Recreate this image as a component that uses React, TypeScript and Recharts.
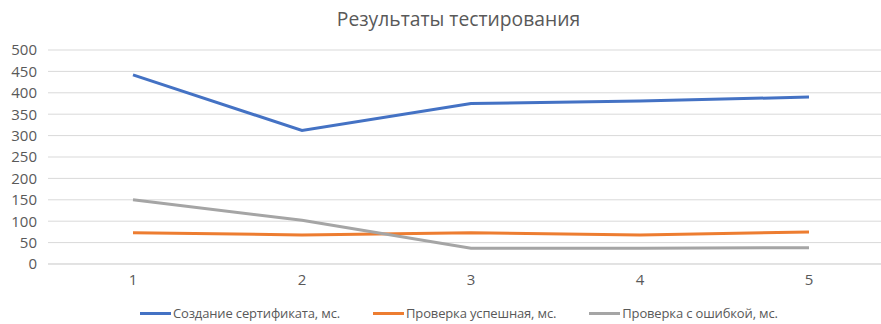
import { CartesianGrid, Line, LineChart, XAxis, YAxis } from "recharts";

const categories = ["1", "2", "3", "4", "5"];
const creation = [442, 312, 375, 381, 390];
const verifyOk = [73, 68, 73, 68, 75];
const verifyErr = [150, 102, 37, 37, 38];
const yTicks = [0, 50, 100, 150, 200, 250, 300, 350, 400, 450, 500];

const series = [
  { key: "creation", name: "Создание сертификата, мс.", color: "#4472C4" },
  { key: "verifyOk", name: "Проверка успешная, мс.", color: "#ED7D31" },
  { key: "verifyErr", name: "Проверка с ошибкой, мс.", color: "#A5A5A5" },
];

const data = categories.map((c, i) => ({
  cat: c,
  creation: creation[i],
  verifyOk: verifyOk[i],
  verifyErr: verifyErr[i],
}));

const FONT = "Open Sans, Noto Sans, sans-serif";
const TEXT = "#595959";

// legend sits outside the chart so it doesn't eat plot height
function LegendRow() {
  return (
    <div
      style={{
        position: "absolute",
        left: 140,
        top: 304,
        display: "flex",
        gap: 33,
        fontFamily: FONT,
        fontSize: 13,
        letterSpacing: -0.15,
        color: TEXT,
        lineHeight: "18px",
      }}
    >
      {series.map((s) => (
        <div key={s.key} style={{ display: "flex", alignItems: "center" }}>
          <span style={{ display: "inline-block", width: 31, height: 3, background: s.color, marginRight: 2 }} />
          <span>{s.name}</span>
        </div>
      ))}
    </div>
  );
}

export default function App() {
  return (
    <div style={{ position: "absolute", left: 0, top: 0, width: 881, height: 324, background: "#fff", overflow: "hidden" }}>
      <div
        style={{
          position: "absolute",
          top: 5,
          left: 36,
          width: 845,
          textAlign: "center",
          fontFamily: FONT,
          fontSize: 19.3,
          color: TEXT,
        }}
      >
        Результаты тестирования
      </div>
      <LineChart width={881} height={324} data={data} margin={{ top: 50, right: -13, bottom: 30, left: 0 }}>
        <CartesianGrid vertical={false} stroke="#D9D9D9" strokeWidth={1} />
        <XAxis
          dataKey="cat"
          padding={{ left: 85, right: 85 }}
          axisLine={{ stroke: "#D9D9D9" }}
          tickLine={false}
          interval={0}
          tick={{ fill: TEXT, fontSize: 15, fontFamily: FONT }}
          tickMargin={4}
        />
        <YAxis
          domain={[0, 500]}
          ticks={yTicks}
          interval={0}
          width={48}
          axisLine={false}
          tickLine={false}
          tick={{ fill: TEXT, fontSize: 15, fontFamily: FONT, textAnchor: "end" }}
          tickMargin={5}
        />
        {series.map((s) => (
          <Line
            key={s.key}
            dataKey={s.key}
            name={s.name}
            stroke={s.color}
            strokeWidth={3}
            dot={false}
            type="linear"
            isAnimationActive={false}
          />
        ))}
      </LineChart>
      <LegendRow />
    </div>
  );
}
